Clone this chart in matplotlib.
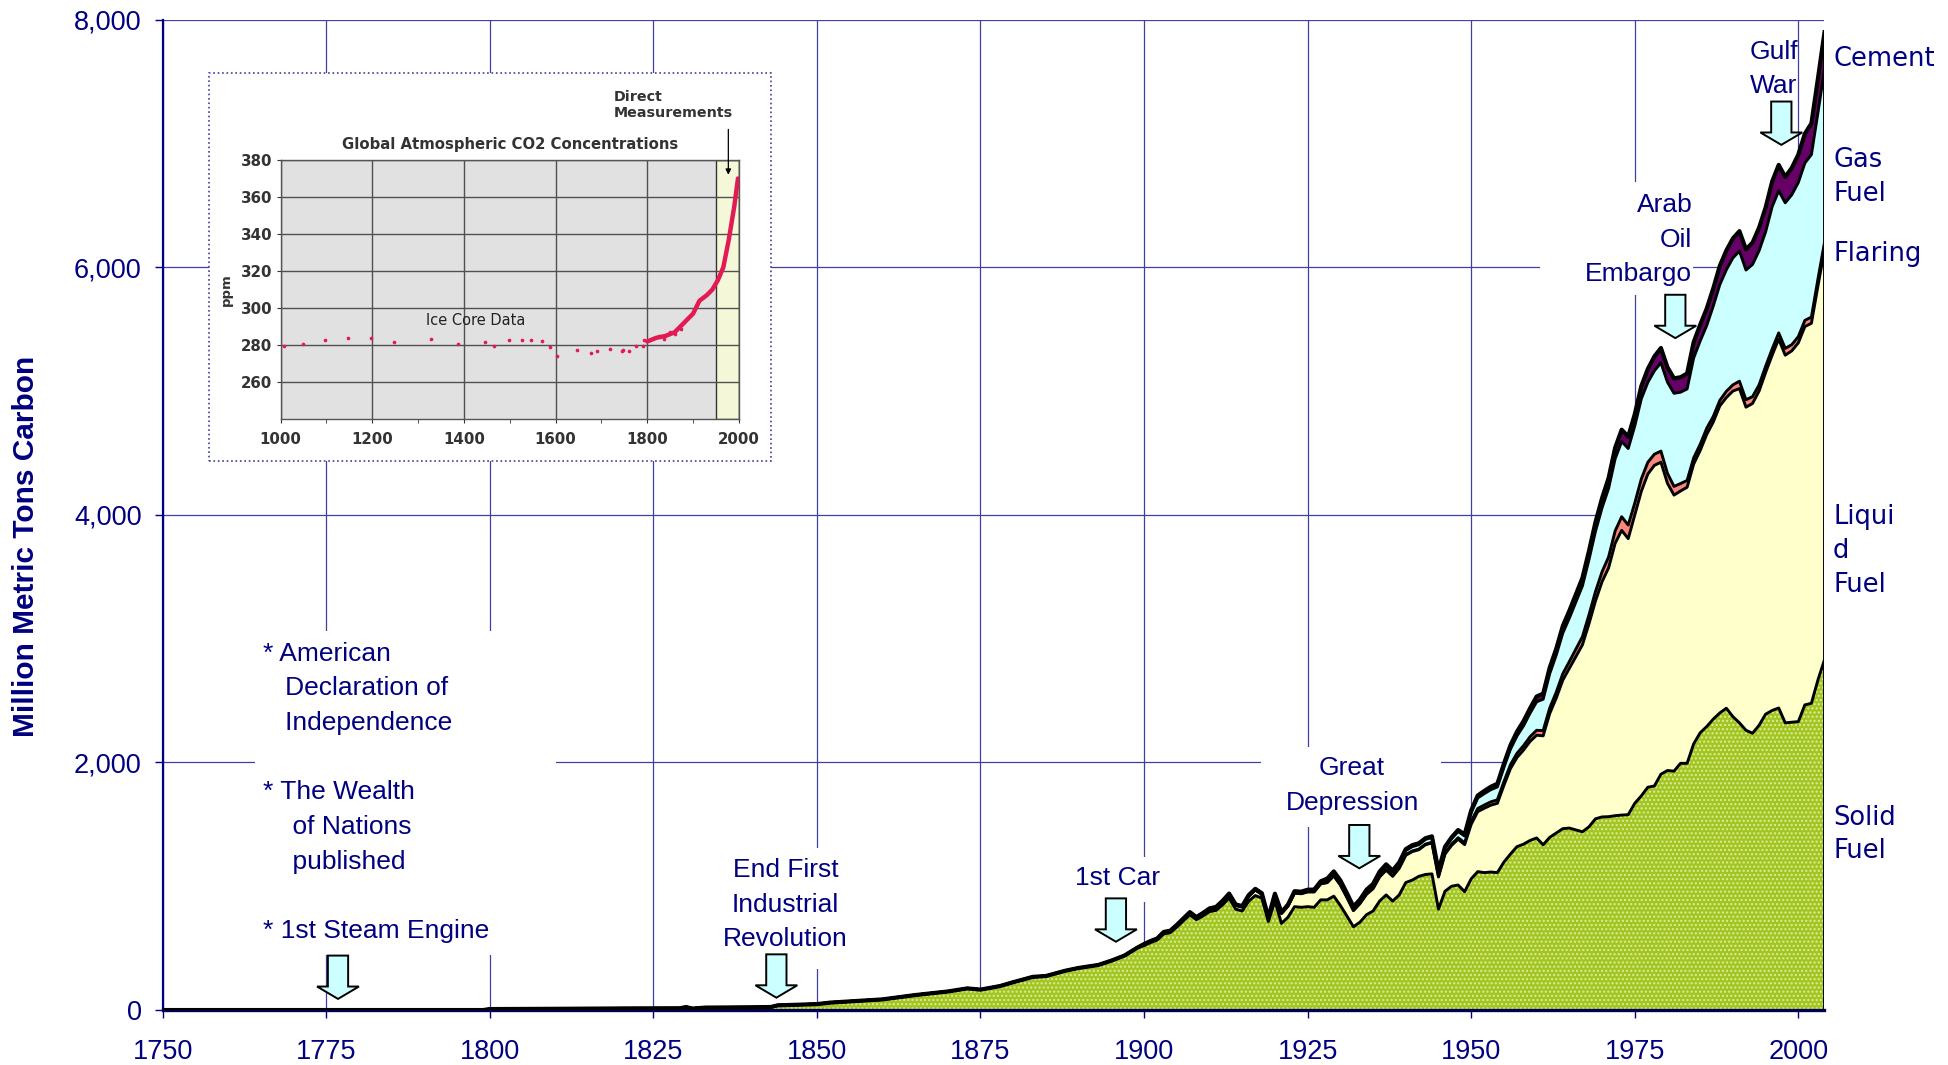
import numpy as np
import matplotlib.pyplot as plt
from matplotlib.patches import FancyArrow, Rectangle
from matplotlib.ticker import FuncFormatter, MultipleLocator

NAVY = "#000080"
GRID = "#4040a0"
RED = "#e31b54"

# ---- global fossil-fuel carbon emissions, million metric tons carbon ----
YEARS_EARLY = [1750, 1799, 1800, 1810, 1820, 1829, 1830, 1831, 1833, 1840,
               1843, 1844, 1850, 1852, 1855, 1860, 1865, 1870, 1873, 1875,
               1878, 1880, 1883, 1885, 1888, 1890, 1893, 1895, 1897, 1899]
SOLID_EARLY = [0, 0, 8, 10, 13, 14, 24, 12, 20, 22,
               25, 38, 48, 60, 70, 86, 121, 150, 175, 165,
               194, 225, 268, 275, 318, 340, 364, 399, 440, 505]

YEARS = list(range(1900, 2005))
SOLID = [520, 545, 565, 615, 625, 670, 720, 770, 730, 760,
         795, 805, 850, 905, 815, 800, 880, 925, 905, 715,
         880, 700, 750, 835, 830, 835, 830, 890, 890, 920,
         845, 760, 673, 710, 770, 800, 880, 930, 880, 930,
         1030, 1050, 1080, 1095, 1100, 815, 960, 1000, 1010, 956,
         1060, 1118, 1110, 1115, 1110, 1195, 1260, 1320, 1340, 1370,
         1390, 1335, 1395, 1430, 1465, 1470, 1455, 1440, 1480, 1545,
         1560, 1562, 1570, 1575, 1578, 1670, 1730, 1800, 1810, 1905,
         1935, 1930, 1993, 1993, 2150, 2240, 2290, 2350, 2400, 2438,
         2370, 2320, 2260, 2236, 2300, 2390, 2420, 2440, 2320, 2325,
         2330, 2465, 2478, 2667, 2830]
LIQUID = [10, 10, 10, 12, 12, 14, 15, 16, 16, 18,
          20, 22, 25, 28, 30, 32, 40, 45, 30, 25,
          50, 80, 90, 110, 110, 120, 125, 130, 140, 165,
          165, 150, 130, 150, 165, 180, 195, 200, 200, 215,
          220, 230, 215, 240, 250, 260, 300, 330, 370, 380,
          440, 485, 520, 540, 560, 620, 690, 720, 760, 800,
          830, 880, 1000, 1090, 1200, 1290, 1400, 1510, 1640, 1760,
          1900, 2010, 2200, 2300, 2230, 2330, 2460, 2530, 2590, 2520,
          2320, 2230, 2200, 2230, 2260, 2280, 2360, 2400, 2480, 2510,
          2630, 2700, 2610, 2664, 2700, 2760, 2870, 2980, 2970, 3000,
          3060, 3056, 3070, 3183, 3311]
FLARING = [0, 0, 0, 0, 0, 0, 0, 0, 0, 0,
           0, 0, 0, 0, 0, 0, 0, 0, 0, 0,
           0, 0, 0, 0, 0, 0, 0, 0, 0, 0,
           3, 3, 3, 3, 4, 4, 5, 5, 5, 5,
           5, 5, 5, 5, 5, 5, 8, 10, 12, 15,
           25, 25, 26, 27, 28, 30, 32, 34, 36, 38,
           40, 42, 45, 48, 52, 55, 60, 66, 72, 76,
           80, 88, 100, 110, 110, 95, 100, 95, 90, 90,
           80, 70, 60, 55, 50, 50, 50, 45, 45, 50,
           50, 60, 60, 55, 50, 50, 50, 50, 55, 50,
           50, 50, 50, 55, 60]
GAS = [3, 3, 3, 4, 4, 4, 5, 5, 5, 6,
       6, 6, 7, 8, 8, 8, 9, 9, 9, 8,
       10, 10, 12, 15, 16, 17, 18, 20, 22, 25,
       25, 23, 22, 22, 24, 25, 27, 30, 30, 31,
       33, 35, 36, 38, 40, 40, 42, 45, 50, 55,
       70, 85, 92, 98, 104, 115, 125, 140, 160, 190,
       230, 254, 277, 300, 328, 351, 380, 410, 446, 487,
       517, 554, 583, 608, 618, 623, 647, 646, 674, 714,
       737, 752, 738, 739, 807, 835, 830, 892, 935, 982,
       1026, 1051, 1048, 1068, 1084, 1086, 1150, 1148, 1176, 1211,
       1245, 1271, 1313, 1345, 1400]
CEMENT = [0, 0, 0, 0, 0, 0, 0, 0, 0, 0,
          0, 0, 0, 0, 0, 0, 0, 0, 0, 0,
          0, 0, 0, 0, 0, 0, 0, 0, 10, 10,
          10, 9, 8, 8, 9, 10, 11, 12, 12, 12,
          12, 12, 11, 10, 8, 7, 9, 10, 12, 13,
          18, 20, 22, 24, 26, 30, 32, 35, 38, 40,
          43, 45, 49, 51, 57, 59, 63, 65, 70, 74,
          78, 84, 89, 95, 96, 95, 103, 108, 116, 119,
          120, 121, 121, 125, 128, 131, 137, 143, 152, 156,
          157, 161, 167, 176, 186, 197, 203, 209, 209, 217,
          226, 237, 252, 276, 298]

FUEL_COLORS = ["#a3c524", "#ffffcc", "#f9877b", "#ccffff", "#660066"]
DOT_COLOR = "#dcee96"

# ---- event annotations ----
ARROW_YEARS = [1776.8, 1843.8, 1895.7, 1932.9, 1981.2, 1997.4]
ARROW_TIPS = [90, 100, 552, 1145, 5428, 6989]

# ---- inset: atmospheric CO2 (ppm) ----
ICE_YEARS = [1008, 1048, 1098, 1147, 1197, 1247, 1328, 1387, 1446, 1465,
             1499, 1527, 1546, 1570, 1588, 1603, 1646, 1678, 1691, 1718,
             1744, 1748, 1760, 1775, 1790, 1793, 1815, 1825, 1837, 1849,
             1861, 1873]
ICE_PPM = [279.6, 280.4, 282.7, 284.0, 284.0, 281.8, 283.6, 280.4, 281.8, 279.6,
           282.7, 283.0, 283.0, 282.2, 279.0, 274.4, 277.3, 276.0, 276.6, 277.7,
           277.0, 277.3, 276.6, 279.6, 279.6, 282.7, 284.0, 284.9, 283.6, 287.0,
           286.3, 289.0]
DIRECT_YEARS = [1800, 1820, 1840, 1860, 1880, 1900, 1914, 1930, 1942, 1954,
                1966, 1978, 1990, 1998]
DIRECT_PPM = [282, 284, 285, 287, 292, 297, 304, 307, 310, 315,
              322, 337, 355, 370]


def stack_layers():
    pad = [0] * len(YEARS_EARLY)
    years = np.array(YEARS_EARLY + YEARS, dtype=float)
    layers = np.array([SOLID_EARLY + SOLID, pad + LIQUID, pad + FLARING,
                       pad + GAS, pad + CEMENT], dtype=float)
    return years, np.cumsum(layers, axis=0)


def white_box(ax, x0, x1, y0, y1):
    ax.add_patch(Rectangle((x0, y0), x1 - x0, y1 - y0, facecolor="white",
                           edgecolor="none", zorder=1))


def draw_main(fig):
    ax = fig.add_axes([0.0835, 0.0516, 0.8531, 0.9299])
    years, tops = stack_layers()

    bottom = np.zeros_like(years)
    for top, color in zip(tops, FUEL_COLORS):
        ax.fill_between(years, bottom, top, facecolor=color, edgecolor="none",
                        lw=0, zorder=2)
        bottom = top
    ax.fill_between(years, 0, tops[0], facecolor="none", edgecolor=DOT_COLOR,
                    hatch="....", lw=0, zorder=2.1)
    for i, top in enumerate(tops):
        ax.plot(years, top, color="black", lw=3.0 if i == 4 else 2.1, zorder=3)
    ax.plot([years[-1], years[-1]], [0, tops[-1][-1]], color="black", lw=2.1,
            zorder=3)

    for x, tip in zip(ARROW_YEARS, ARROW_TIPS):
        ax.add_patch(FancyArrow(x, tip + 350, 0, -350, width=3.1,
                                head_width=6.4, head_length=100,
                                length_includes_head=True, facecolor="#ccffff",
                                edgecolor="black", lw=1.4, zorder=4))

    # white panels behind the event labels
    white_box(ax, 1764.1, 1810.1, 444, 3062)
    white_box(ax, 1834.4, 1856.1, 331, 1309)
    white_box(ax, 1887.9, 1904.0, 873, 1236)
    white_box(ax, 1917.9, 1945.4, 1481, 2128)
    white_box(ax, 1960.5, 1983.9, 5777, 6690)

    tk = dict(color=NAVY, fontsize=19, family="Liberation Sans", zorder=5,
              linespacing=1.56)
    ax.text(1765.3, 2975, "* American\n   Declaration of\n   Independence\n\n"
            "* The Wealth\n    of Nations\n    published\n\n* 1st Steam Engine",
            ha="left", va="top", **tk)
    ax.text(1845.2, 1228, "End First\nIndustrial\nRevolution", ha="center",
            va="top", multialignment="center", **tk)
    ax.text(1895.9, 1164, "1st Car", ha="center", va="top", **tk)
    ax.text(1931.8, 2052, "Great\nDepression", ha="center", va="top",
            multialignment="center", **tk)
    ax.text(1983.8, 6600, "Arab\nOil\nEmbargo", ha="right", va="top",
            multialignment="right", **tk)
    gulf = ax.text(1992.6, 7838, "Gulf\nWar", ha="left", va="top", **tk)
    gulf.set_clip_path(Rectangle((1750, 0), 250, 8000, transform=ax.transData))

    rk = dict(color=NAVY, fontsize=18.5, family="DejaVu Sans", ha="left",
              va="top", linespacing=1.38, clip_on=False)
    ax.text(2005.3, 7790, "Cement", **rk)
    ax.text(2005.3, 6970, "Gas\nFuel", **rk)
    ax.text(2005.3, 6210, "Flaring", **rk)
    ax.text(2005.3, 4085, "Liqui\nd\nFuel", **rk)
    ax.text(2005.3, 1660, "Solid\nFuel", **rk)

    ax.set_xlim(1750, 2004)
    ax.set_ylim(0, 8000)
    ax.xaxis.set_major_locator(MultipleLocator(25))
    ax.yaxis.set_major_locator(MultipleLocator(2000))
    ax.yaxis.set_major_formatter(FuncFormatter(lambda v, p: f"{v:,.0f}"))
    ax.set_axisbelow(True)
    ax.grid(True, color=GRID, lw=0.9)
    ax.tick_params(colors=NAVY, labelsize=19.5, length=6, width=1)
    ax.tick_params(axis="x", pad=15)
    ax.tick_params(axis="y", pad=9)
    for lab in ax.get_xticklabels() + ax.get_yticklabels():
        lab.set_family("Liberation Sans")
    for side in ("top", "right"):
        ax.spines[side].set_visible(False)
    ax.spines["left"].set_color(NAVY)
    ax.spines["left"].set_linewidth(1.6)
    ax.spines["bottom"].set_color("#000050")
    ax.spines["bottom"].set_linewidth(2.4)

    ax.set_ylabel("Million Metric Tons Carbon", color=NAVY, fontsize=21.5,
                  fontweight="bold", family="Liberation Sans", va="center")
    ax.yaxis.set_label_coords(-0.0823, 0.468)
    return ax


def draw_inset(fig):
    frame = Rectangle((0.1071, 0.5672), 0.2889, 0.3640,
                      transform=fig.transFigure, facecolor="white",
                      edgecolor=GRID, ls=":", lw=1.2, zorder=1)
    fig.add_artist(frame)

    ax = fig.add_axes([0.1440, 0.6063, 0.2353, 0.2435])
    ax.set_zorder(2)
    ax.set_facecolor("#e1e1e1")
    ax.axvspan(1950, 2000, facecolor="#f5f8d8", edgecolor="#333333", lw=1.0,
               zorder=0.3)
    ax.set_axisbelow(True)
    ax.grid(True, color="#505050", lw=1.0)

    ax.plot(DIRECT_YEARS, DIRECT_PPM, color=RED, lw=3.2, zorder=3,
            solid_capstyle="round")
    ax.scatter(ICE_YEARS, ICE_PPM, s=7, color=RED, zorder=3, lw=0)

    ax.set_xlim(1000, 2000)
    ax.set_ylim(240, 380)
    ax.set_xticks(range(1000, 2001, 200))
    ax.set_xticks(range(1100, 2000, 200), minor=True)
    ax.set_yticks(range(260, 381, 20))
    ax.tick_params(colors="#333333", labelsize=10.8, length=3, width=0.8)
    ax.tick_params(axis="y", pad=3)
    ax.tick_params(axis="x", pad=6)
    ax.tick_params(axis="x", which="minor", length=3, color="#333333")
    for lab in ax.get_xticklabels() + ax.get_yticklabels():
        lab.set_fontweight("bold")
        lab.set_family("DejaVu Sans")
    for sp in ax.spines.values():
        sp.set_color("#555555")
        sp.set_linewidth(1.0)

    ax.set_title("Global Atmospheric CO2 Concentrations", fontsize=10.7,
                 fontweight="bold", color="#333333", family="DejaVu Sans",
                 pad=8)
    ax.set_ylabel("ppm", fontsize=9.5, fontweight="bold", color="#333333",
                  family="DejaVu Sans", va="center")
    ax.yaxis.set_label_coords(-0.119, 0.5)
    ax.text(1426, 293.6, "Ice Core Data", fontsize=10.5, color="#222222",
            family="DejaVu Sans", ha="center", va="center")
    ax.text(1726, 418, "Direct\nMeasurements", fontsize=10.3,
            fontweight="bold", color="#333333", family="DejaVu Sans",
            ha="left", va="top", clip_on=False)
    ax.annotate("", xy=(1977, 370.5), xytext=(1977, 398),
                arrowprops=dict(arrowstyle="-|>", color="black", lw=0.9,
                                mutation_scale=8), annotation_clip=False)


def main() -> None:
    fig = plt.figure(figsize=(19.48, 10.65), dpi=100)
    draw_main(fig)
    draw_inset(fig)
    fig.savefig("out.png", dpi=100, facecolor="white")
    plt.close(fig)


if __name__ == "__main__":
    main()
